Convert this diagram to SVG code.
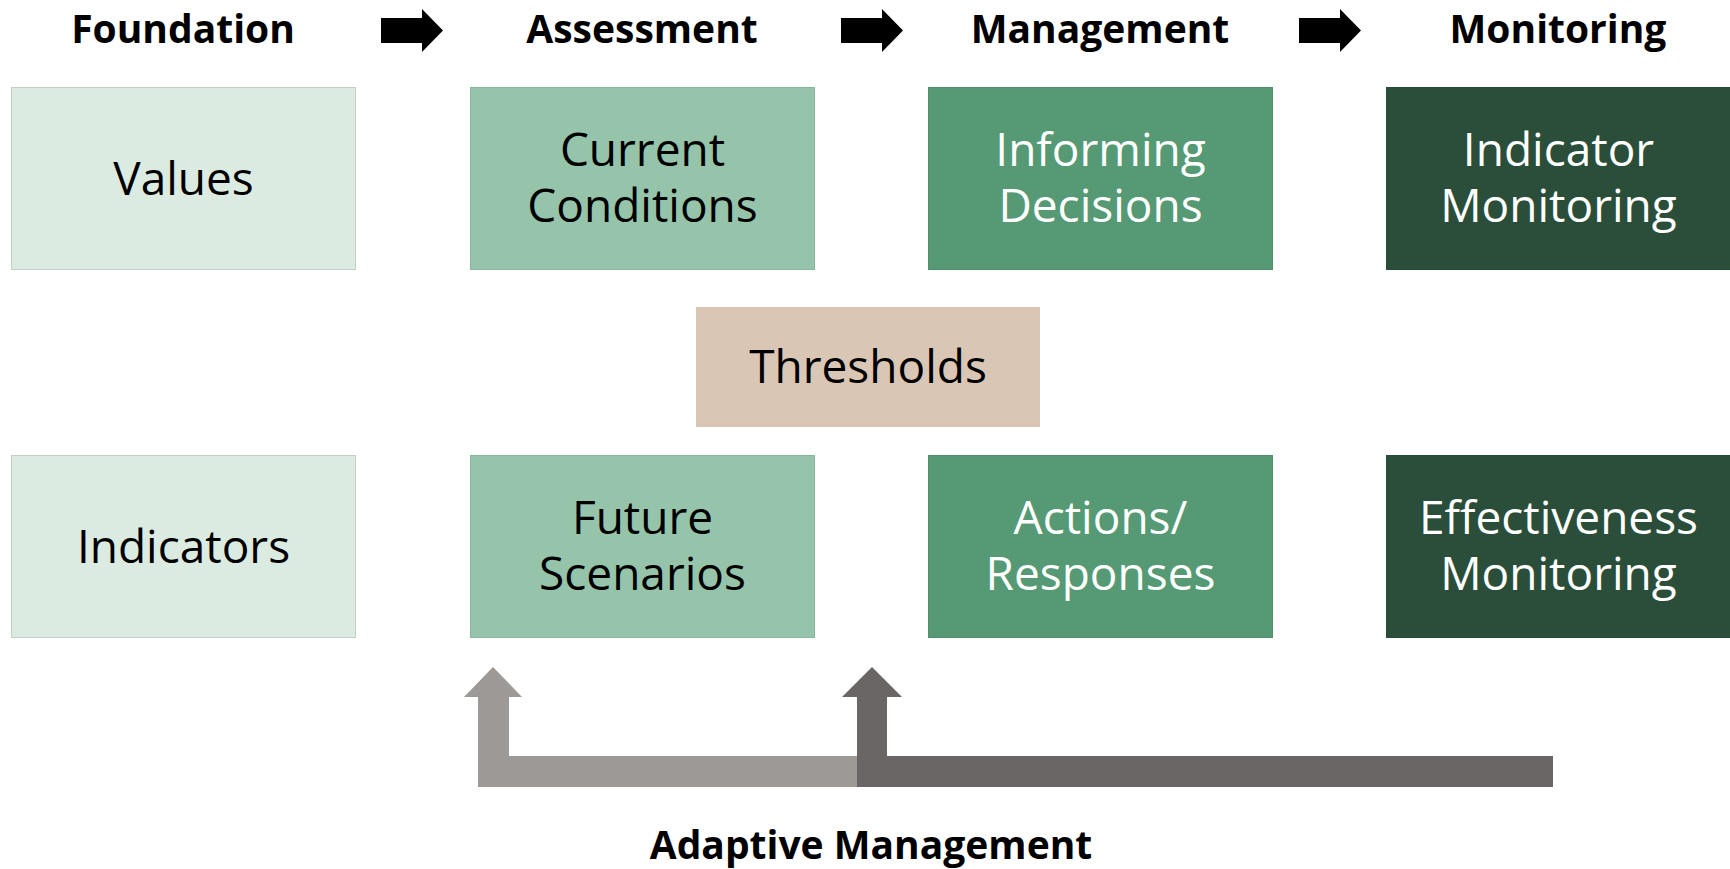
<svg xmlns="http://www.w3.org/2000/svg" width="1730" height="869" viewBox="0 0 1730 869">
<style>
.hdr{font-family:"Open Sans","Liberation Sans",sans-serif;font-weight:700;font-size:39px;fill:#000;text-anchor:middle}
.lbl{font-family:"Open Sans","Liberation Sans",sans-serif;font-weight:400;font-size:46px;text-anchor:middle}
.dk{fill:#000}
.wt{fill:#fff}
.c1{fill:#dbebe1;stroke:#c5cdc8;stroke-width:1}
.c2{fill:#95c4aa;stroke:#8cb59e;stroke-width:1}
.c3{fill:#559a74;stroke:#4f8f6c;stroke-width:1}
.c4{fill:#2a4e39;stroke:#284a36;stroke-width:1}
.c5{fill:#d9c6b5}
.flow{fill:#000}
</style>
<defs>
<path id="harrow" d="M0,-12.5 H41 V-21.5 L62,0 L41,21.5 V12.5 H0 Z"/>
</defs>
<g id="headers">
<text class="hdr" x="183" y="43">Foundation</text>
<text class="hdr" x="642" y="43">Assessment</text>
<text class="hdr" x="1100" y="43">Management</text>
<text class="hdr" x="1558" y="43">Monitoring</text>
</g>
<g id="connectors">
<use href="#harrow" class="flow" x="381" y="30.5"/>
<use href="#harrow" class="flow" x="841" y="30.5"/>
<use href="#harrow" class="flow" x="1299" y="30.5"/>
<path d="M478,787 V697 H464 L493,667 L522,697 H509 V756 H857 V787 Z" fill="#9d9997"/>
<path d="M857,787 V697 H842 L872,667 L902,697 H887 V756 H1553 V787 Z" fill="#6a6665"/>
</g>
<g id="values">
<rect class="c1" x="11.5" y="87.5" width="344" height="182"/>
<text class="lbl dk" x="183.5" y="195">Values</text>
</g>
<g id="current-conditions">
<rect class="c2" x="470.5" y="87.5" width="344" height="182"/>
<text class="lbl dk" x="642.5" y="166">Current</text>
<text class="lbl dk" x="642.5" y="222">Conditions</text>
</g>
<g id="informing-decisions">
<rect class="c3" x="928.5" y="87.5" width="344" height="182"/>
<text class="lbl wt" x="1100.5" y="166">Informing</text>
<text class="lbl wt" x="1100.5" y="222">Decisions</text>
</g>
<g id="indicator-monitoring">
<rect class="c4" x="1386.5" y="87.5" width="344" height="182"/>
<text class="lbl wt" x="1558.5" y="166">Indicator</text>
<text class="lbl wt" x="1558.5" y="222">Monitoring</text>
</g>
<g id="thresholds">
<rect class="c5" x="696" y="307" width="344" height="120"/>
<text class="lbl dk" x="868" y="383">Thresholds</text>
</g>
<g id="indicators">
<rect class="c1" x="11.5" y="455.5" width="344" height="182"/>
<text class="lbl dk" x="183.5" y="563">Indicators</text>
</g>
<g id="future-scenarios">
<rect class="c2" x="470.5" y="455.5" width="344" height="182"/>
<text class="lbl dk" x="642.5" y="534">Future</text>
<text class="lbl dk" x="642.5" y="590">Scenarios</text>
</g>
<g id="actions-responses">
<rect class="c3" x="928.5" y="455.5" width="344" height="182"/>
<text class="lbl wt" x="1100.5" y="534">Actions/</text>
<text class="lbl wt" x="1100.5" y="590">Responses</text>
</g>
<g id="effectiveness-monitoring">
<rect class="c4" x="1386.5" y="455.5" width="344" height="182"/>
<text class="lbl wt" x="1558.5" y="534">Effectiveness</text>
<text class="lbl wt" x="1558.5" y="590">Monitoring</text>
</g>
<g id="adaptive-label">
<text class="hdr" x="871" y="859">Adaptive Management</text>
</g>
</svg>
